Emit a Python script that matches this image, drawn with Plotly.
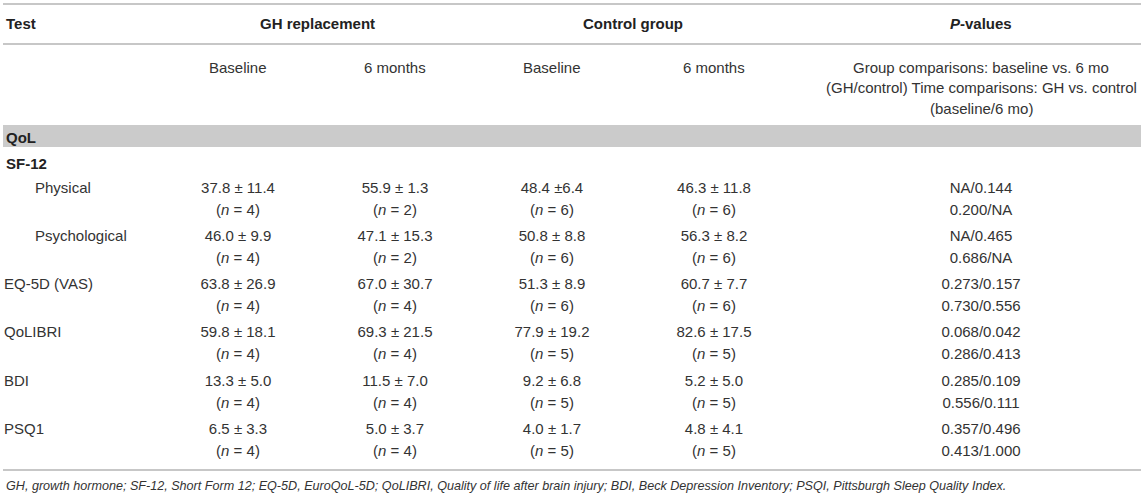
import plotly.graph_objects as go

# datos de la tabla
tests = ["Physical", "Psychological", "EQ-5D (VAS)", "QoLIBRI", "BDI", "PSQ1"]
indent = [True, True, False, False, False, False]

gh_base = ["37.8 ± 11.4", "46.0 ± 9.9", "63.8 ± 26.9", "59.8 ± 18.1", "13.3 ± 5.0", "6.5 ± 3.3"]
gh_base_n = [4, 4, 4, 4, 4, 4]
gh_6m = ["55.9 ± 1.3", "47.1 ± 15.3", "67.0 ± 30.7", "69.3 ± 21.5", "11.5 ± 7.0", "5.0 ± 3.7"]
gh_6m_n = [2, 2, 4, 4, 4, 4]
ctl_base = ["48.4 ±6.4", "50.8 ± 8.8", "51.3 ± 8.9", "77.9 ± 19.2", "9.2 ± 6.8", "4.0 ± 1.7"]
ctl_base_n = [6, 6, 6, 5, 5, 5]
ctl_6m = ["46.3 ± 11.8", "56.3 ± 8.2", "60.7 ± 7.7", "82.6 ± 17.5", "5.2 ± 5.0", "4.8 ± 4.1"]
ctl_6m_n = [6, 6, 6, 5, 5, 5]
p_group = ["NA/0.144", "NA/0.465", "0.273/0.157", "0.068/0.042", "0.285/0.109", "0.357/0.496"]
p_time = ["0.200/NA", "0.686/NA", "0.730/0.556", "0.286/0.413", "0.556/0.111", "0.413/1.000"]

col_heads = ["Baseline", "6 months", "Baseline", "6 months"]
p_head = ["Group comparisons: baseline vs. 6 mo",
          "(GH/control) Time comparisons: GH vs. control",
          "(baseline/6 mo)"]
footnote = ("GH, growth hormone; SF-12, Short Form 12; EQ-5D, EuroQoL-5D; "
            "QoLIBRI, Quality of life after brain injury; BDI, Beck Depression Inventory; "
            "PSQI, Pittsburgh Sleep Quality Index.")

W, H = 1144, 498
FONT = "Liberation Sans"
TXT = "#333333"
HEAD = "#222222"
LINE = "#b4b4b4"
FS = 15

col_x = [238, 395, 552, 714]
p_x = 981
row_y = [189 + 48.2 * i for i in range(len(tests))]
dy = 22

data = []

# columna de nombres
data.append(go.Scatter(
    x=[35 if ind else 4 for ind in indent], y=row_y, text=tests,
    mode="text", textposition="middle right", cliponaxis=False,
    textfont=dict(family=FONT, size=FS, color=TXT), hoverinfo="skip"))

# columnas de valores
for cx, vals, ns in zip(col_x, [gh_base, gh_6m, ctl_base, ctl_6m],
                        [gh_base_n, gh_6m_n, ctl_base_n, ctl_6m_n]):
    data.append(go.Scatter(
        x=[cx] * len(vals) * 2,
        y=row_y + [y + dy for y in row_y],
        text=vals + ["(<i>n</i> = %d)" % n for n in ns],
        mode="text", textposition="middle center",
        textfont=dict(family=FONT, size=FS, color=TXT), hoverinfo="skip"))

data.append(go.Scatter(
    x=[p_x] * len(p_group) * 2,
    y=row_y + [y + dy for y in row_y],
    text=p_group + p_time,
    mode="text", textposition="middle center",
    textfont=dict(family=FONT, size=FS, color=TXT), hoverinfo="skip"))

fig = go.Figure(data=data)

shapes = [
    dict(type="line", x0=3, x1=1141, y0=4, y1=4, line=dict(color=LINE, width=1.5)),
    dict(type="line", x0=3, x1=1141, y0=44, y1=44, line=dict(color=LINE, width=1.5)),
    dict(type="rect", x0=3, x1=1141, y0=125, y1=147, line=dict(width=0), fillcolor="#cbcbcb", layer="below"),
    dict(type="line", x0=3, x1=1141, y0=470, y1=470, line=dict(color=LINE, width=1.5)),
]

annots = []
def txt(x, y, s, anchor="center", bold=False, italic=False, size=FS, color=TXT):
    if bold:
        s = "<b>" + s + "</b>"
    if italic:
        s = "<i>" + s + "</i>"
    annots.append(dict(x=x, y=y, text=s, showarrow=False, xanchor=anchor, yanchor="middle",
                       font=dict(family=FONT, size=size, color=color)))

txt(4, 23, "Test", "left", bold=True, color=HEAD)
txt(317, 23, "GH replacement", bold=True, color=HEAD)
txt(633, 23, "Control group", bold=True, color=HEAD)
txt(p_x, 23, "<i>P</i>-values", bold=True, color=HEAD)
for cx, h in zip(col_x, col_heads):
    txt(cx, 67, h)
for i, line in enumerate(p_head):
    txt(p_x, 67 + 20.5 * i, line)
txt(4, 137, "QoL", "left", bold=True, color=HEAD)
txt(4, 163, "SF-12", "left", bold=True, color=HEAD)
txt(4, 486, footnote, "left", italic=True, size=12.6)

fig.update_layout(
    width=W, height=H,
    margin=dict(l=0, r=0, t=0, b=0),
    plot_bgcolor="white", paper_bgcolor="white",
    showlegend=False,
    shapes=shapes, annotations=annots,
    xaxis=dict(range=[0, W], visible=False, fixedrange=True),
    yaxis=dict(range=[H, 0], visible=False, fixedrange=True),
)

# quitar el margen por defecto del body
fig.write_html("out.html", config={"displayModeBar": False}, post_script=(
    "document.body.style.margin='0';"
    "document.body.style.overflow='hidden';"
    "document.documentElement.style.overflow='hidden';"))
